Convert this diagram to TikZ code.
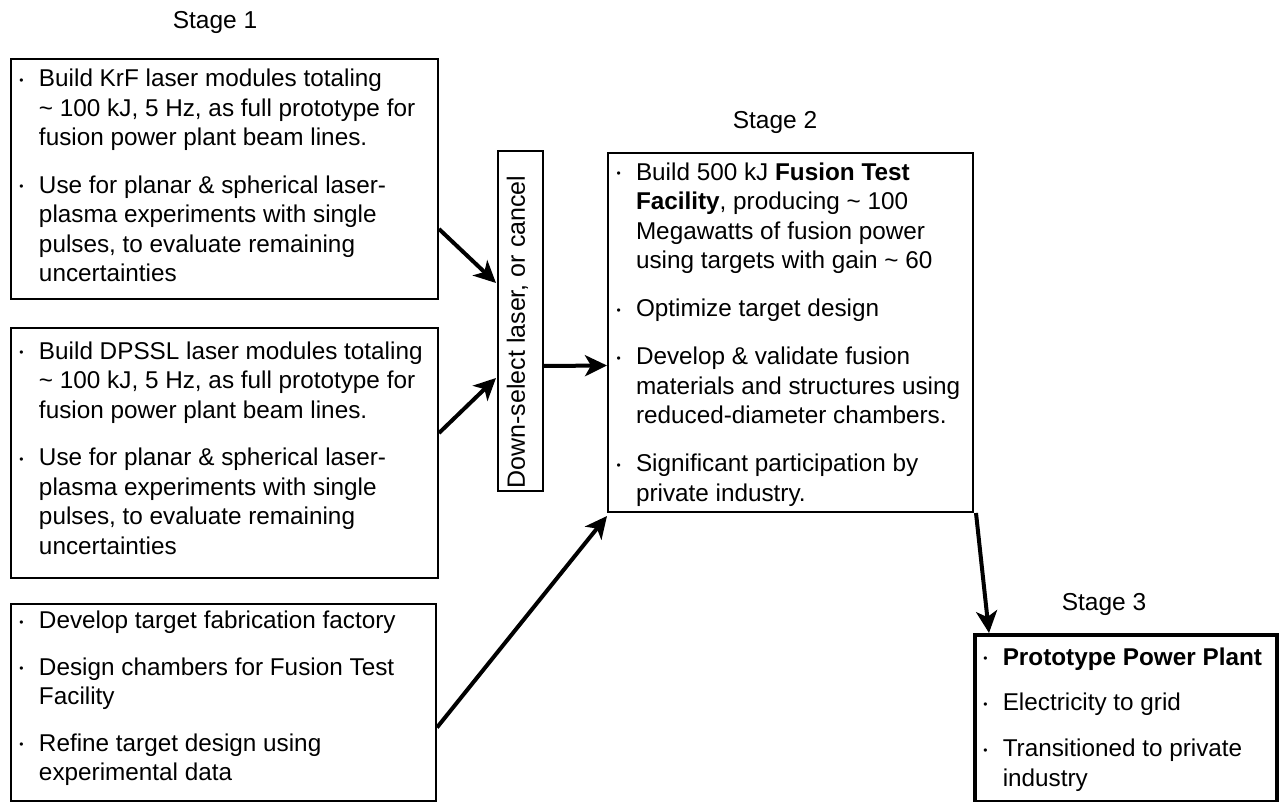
\documentclass[tikz,border=0pt]{standalone}
\usepackage{fontspec}
\setmainfont{Liberation Sans}
\usetikzlibrary{arrows.meta,calc}
\newcommand\bulglyph{\raisebox{2.5pt}{\fontsize{12}{12}\selectfont\textbullet}}
\newcommand\itm[1]{\ifvmode\noindent\fi\hangindent=24pt\hangafter=1\makebox[24pt][l]{\hspace{4.5pt}\bulglyph}#1\par}
\newcommand\gap[1][17pt]{\vspace{#1}}
\newcommand\tld{\textasciitilde}
\newcommand\nl{\newline}
\tikzset{
  box/.style={draw, line width=2pt, anchor=north west, inner xsep=4pt, inner ysep=0pt, align=flush left,
    minimum height=0pt, font=\fontsize{24.3}{29.5}\selectfont},
  heavy/.style={box, line width=3.5pt},
  stagelbl/.style={font=\fontsize{24.5}{29.5}\selectfont, inner sep=0pt},
  arr/.style={line width=4pt, -{Stealth[length=22pt,width=21pt,inset=6pt]}},
}
\begin{document}
\begin{tikzpicture}[x=1pt,y=-1pt]
\useasboundingbox (0,0) rectangle (1282,802);
\node[stagelbl] (st1) at (215,22) {Stage 1};
\node[stagelbl] (st2) at (775,122) {Stage 2};
\node[stagelbl] (st3) at (1104,604) {Stage 3};

\node[box, minimum width=427pt, text width=419pt, text height=27.8pt, text depth=212.2pt] (b1) at (10,58) {%
\itm{Build KrF laser modules totaling\nl \tld\ 100 kJ, 5 Hz, as full prototype for\nl fusion power plant beam lines.}\gap[18pt]
\itm{Use for planar \& spherical laser-\nl plasma experiments with single\nl pulses, to evaluate remaining\nl uncertainties}};

\node[box, minimum width=427pt, text width=419pt, text height=31.3pt, text depth=218.7pt] (b2) at (10,327) {%
\itm{Build DPSSL laser modules totaling\nl \tld\ 100 kJ, 5 Hz, as full prototype for\nl fusion power plant beam lines.}\gap[18pt]
\itm{Use for planar \& spherical laser-\nl plasma experiments with single\nl pulses, to evaluate remaining\nl uncertainties}};

\node[box, minimum width=425pt, text width=417pt, text height=24.7pt, text depth=172.3pt] (b3) at (10,603) {%
\itm{Develop target fabrication factory}\gap
\itm{Design chambers for Fusion Test\nl Facility}\gap
\itm{Refine target design using\nl experimental data}};

\node[box, minimum width=45pt, minimum height=340pt] (ds) at (497,150) {};
\node[rotate=90, font=\fontsize{25}{29.5}\selectfont, inner sep=0pt] (dst) at ($(ds.center)+(-3,11)$) {Down-select laser, or cancel};

\node[box, minimum width=365pt, text width=357pt, text height=27.3pt, text depth=331.7pt] (s2) at (607,152) {%
\itm{Build 500 kJ \textbf{Fusion Test}\nl \textbf{Facility}, producing \tld\ 100\nl Megawatts of fusion power\nl using targets with gain \tld\ 60}\gap[18.5pt]
\itm{Optimize target design}\gap[18.5pt]
\itm{Develop \& validate fusion\nl materials and structures using\nl reduced-diameter chambers.}\gap[18.5pt]
\itm{Significant participation by\nl private industry.}};

\node[heavy, minimum width=302pt, text width=294pt, text height=30.3pt, text depth=136.7pt] (s3) at (973,633) {%
\itm{\textbf{Prototype Power Plant}}\gap[16pt]
\itm{Electricity to grid}\gap[16.5pt]
\itm{Transitioned to private\nl industry}};

\draw[arr] ($(b1.east)+(0,50)$) -- ($(ds.west)+(-1,-38)$);
\draw[arr] ($(b2.east)+(0,-20)$) -- ($(ds.west)+(-1,57)$);
\draw[arr] ($(ds.east)+(0,45)$) -- ($(s2.west)+(0,33)$);
\draw[arr] ($(b3.east)+(0,25)$) -- ($(s2.south west)+(0,3)$);
\draw[arr] ($(s2.south east)+(2,0)$) -- ($(s3.north west)+(16,0)$);
\end{tikzpicture}
\end{document}
